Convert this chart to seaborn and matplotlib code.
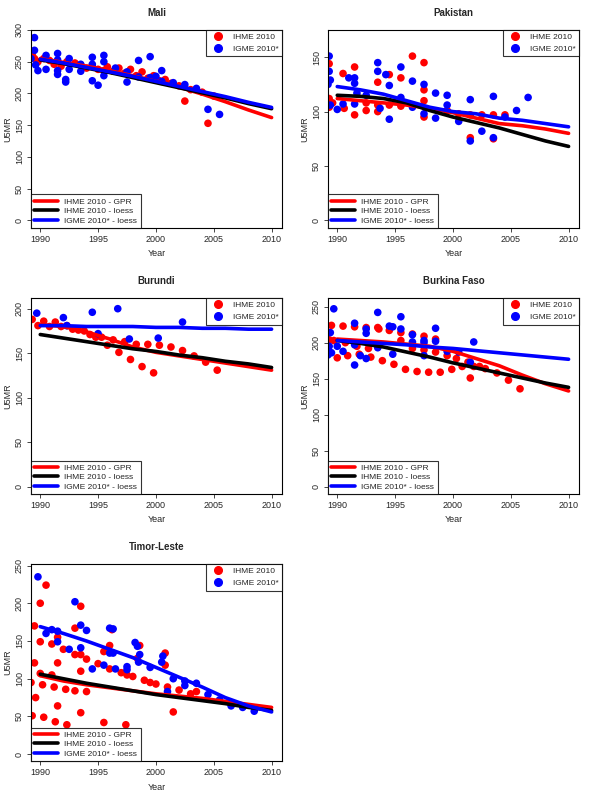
import pandas as pd
import matplotlib.pyplot as plt
import seaborn as sns
from matplotlib.lines import Line2D

# ---- data ----
line_years = [1990, 1992, 1994, 1996, 1998, 2000, 2002, 2004, 2006, 2008, 2010]

mali_ihme = [(1989.3, 262), (1989.5, 255), (1989.8, 250), (1990.3, 255), (1990.8, 252), (1991.2, 246),
             (1991.8, 243), (1992.3, 250), (1993, 248), (1993.5, 245), (1994, 240), (1994.5, 243),
             (1995, 238), (1995.5, 236), (1995.8, 242), (1996.3, 235), (1996.8, 240), (1997.3, 232),
             (1997.8, 238), (1998.3, 228), (1998.8, 234), (1999.3, 224), (1999.8, 228), (2000.3, 220),
             (2000.8, 222), (2001.3, 216), (2002, 212), (2002.5, 188), (2003, 206), (2004, 202),
             (2004.5, 153), (2005, 196)]
mali_igme = [(1989.2, 255), (1989.5, 288), (1989.5, 268), (1989.6, 245), (1989.8, 236), (1990.5, 260),
             (1990.5, 238), (1991.5, 263), (1991.5, 253), (1991.5, 236), (1991.5, 230), (1992.2, 222),
             (1992.2, 218), (1992.5, 255), (1992.5, 238), (1993.5, 246), (1993.5, 235), (1994.5, 257),
             (1994.5, 246), (1994.5, 220), (1995, 213), (1995.5, 260), (1995.5, 250), (1995.5, 228),
             (1996.5, 240), (1997.5, 234), (1997.5, 218), (1998.5, 252), (1998.5, 226), (1999.5, 258),
             (1999.5, 225), (2000, 227), (2000.5, 236), (2000.5, 219), (2001.5, 217), (2002.5, 214),
             (2003.5, 208), (2004.5, 175), (2005.5, 167)]
mali_gpr = [255, 249, 243, 236, 228, 219, 210, 199, 187, 174, 162]
mali_loess = [253, 247, 240, 233, 225, 217, 209, 201, 193, 184, 176]
mali_igme_loess = [254, 248, 241, 234, 227, 219, 211, 203, 195, 186, 178]

pak_ihme = [(1989.3, 144), (1989.3, 112), (1989.3, 104), (1989.6, 108), (1990.5, 135), (1990.6, 103),
            (1991.5, 141), (1991.5, 97), (1992.5, 108), (1992.5, 101), (1993.5, 127), (1993.5, 106),
            (1993.5, 100), (1994.5, 134), (1994.5, 106), (1995.5, 131), (1995.5, 105), (1996.5, 151),
            (1997.5, 145), (1997.5, 120), (1997.5, 110), (1997.5, 95), (1999.5, 101), (2000.5, 98),
            (2001.5, 97), (2001.5, 76), (2002.5, 97), (2003.5, 97), (2003.5, 75), (2004.5, 97)]
pak_igme = [(1989.2, 125), (1989.3, 151), (1989.3, 137), (1989.4, 129), (1989.4, 106), (1990, 102),
            (1990.5, 107), (1991, 131), (1991.5, 131), (1991.5, 126), (1991.5, 107), (1991.7, 117),
            (1992.5, 115), (1993.5, 145), (1993.5, 137), (1993.7, 103), (1994.2, 134), (1994.5, 124),
            (1994.5, 93), (1995.5, 141), (1995.5, 113), (1996.5, 128), (1996.5, 104), (1997.5, 125),
            (1997.5, 98), (1998.5, 117), (1998.5, 94), (1999.5, 115), (1999.5, 106), (2000.5, 91),
            (2001.5, 111), (2001.5, 73), (2002.5, 82), (2003.5, 114), (2003.5, 76), (2004.5, 95),
            (2005.5, 101), (2006.5, 113)]
pak_gpr = [112, 110, 108, 106, 103, 99, 94, 89, 87, 84, 80]
pak_loess = [115, 114, 112, 108, 101, 95, 90, 85, 79, 73, 68]
pak_igme_loess = [123, 120, 116, 110, 104, 100, 98, 94, 92, 89, 86]

bur_ihme = [(1989.3, 188), (1989.8, 181), (1990.3, 186), (1990.8, 180), (1991.3, 185), (1991.8, 180),
            (1992.3, 181), (1992.8, 177), (1993.3, 176), (1993.8, 175), (1994.3, 171), (1994.8, 168),
            (1995.3, 168), (1995.8, 159), (1996.3, 165), (1996.8, 151), (1997.3, 163), (1997.8, 143),
            (1998.3, 160), (1998.8, 135), (1999.3, 160), (1999.8, 128), (2000.3, 159), (2001.3, 157),
            (2002.3, 153), (2003.3, 147), (2004.3, 140), (2005.3, 131)]
bur_igme = [(1989.7, 195), (1992, 190), (1992.3, 181), (1994.5, 196), (1995, 172), (1996.7, 200),
            (1997.7, 166), (2000.2, 167), (2002.3, 185)]
bur_gpr = [182, 180, 174, 166, 157, 151, 147, 143, 139, 135, 131]
bur_loess = [171, 167, 163, 159, 155, 152, 148, 145, 141, 138, 134]
bur_igme_loess = [181, 181, 180, 180, 180, 179, 179, 178, 178, 177, 177]

bf_ihme = [(1989.3, 204), (1989.5, 224), (1989.7, 203), (1990, 179), (1990.5, 223), (1990.7, 200),
           (1990.9, 182), (1991.5, 222), (1991.7, 195), (1991.9, 184), (1992.5, 221), (1992.7, 192),
           (1992.9, 180), (1993.5, 221), (1993.6, 219), (1993.9, 175), (1994.5, 217), (1994.9, 170),
           (1995.5, 214), (1995.5, 203), (1995.9, 163), (1996.5, 212), (1996.5, 192), (1996.9, 160),
           (1997.5, 209), (1997.5, 190), (1997.9, 159), (1998.5, 205), (1998.5, 187), (1998.9, 159),
           (1999.5, 182), (1999.9, 163), (2000.3, 178), (2000.8, 167), (2001.3, 173), (2001.5, 151),
           (2001.8, 167), (2002.3, 167), (2002.8, 164), (2003.8, 158), (2004.8, 148), (2005.8, 136)]
bf_igme = [(1989.2, 183), (1989.3, 195), (1989.4, 214), (1989.5, 186), (1989.7, 247), (1990, 195),
           (1990.5, 188), (1991.5, 227), (1991.5, 197), (1991.5, 169), (1992, 182), (1992.5, 219),
           (1992.5, 213), (1992.5, 178), (1993.5, 242), (1993.5, 193), (1994.5, 223), (1994.8, 222),
           (1994.8, 184), (1995.5, 236), (1995.5, 219), (1996.5, 211), (1996.5, 201), (1997.5, 203),
           (1997.5, 200), (1997.5, 182), (1998.5, 220), (1998.5, 202), (1999.5, 188), (2000.5, 187),
           (2001.5, 173), (2001.8, 201)]
bf_gpr = [205, 203, 201, 198, 195, 188, 178, 168, 155, 143, 133]
bf_loess = [203, 199, 194, 187, 180, 172, 165, 158, 151, 144, 138]
bf_igme_loess = [203, 201, 199, 197, 194, 192, 189, 186, 183, 180, 177]

tl_ihme = [(1989.2, 95), (1989.3, 51), (1989.5, 170), (1989.5, 121), (1989.6, 75), (1990, 200),
           (1990, 149), (1990, 107), (1990.2, 92), (1990.3, 49), (1990.5, 224), (1991, 146),
           (1991, 105), (1991.2, 89), (1991.3, 43), (1991.5, 155), (1991.5, 121), (1991.5, 64),
           (1992, 139), (1992.2, 86), (1992.3, 39), (1993, 167), (1993, 132), (1993, 84),
           (1993.5, 196), (1993.5, 132), (1993.5, 110), (1993.5, 55), (1994, 126), (1994, 83),
           (1995, 120), (1995.5, 136), (1995.5, 42), (1996, 144), (1996, 113), (1996.2, 165),
           (1997, 108), (1997.5, 105), (1997.4, 39), (1998, 103), (1998.4, 127), (1998.6, 144),
           (1999, 98), (1999.5, 95), (2000, 93), (2000.8, 134), (2000.8, 118), (2001, 89),
           (2001.5, 56), (2002, 85), (2003, 80), (2003.5, 83)]
tl_igme = [(1989.8, 235), (1990.5, 160), (1991, 165), (1991.5, 163), (1991.5, 149), (1992.5, 139),
           (1993, 202), (1993.5, 171), (1993.5, 141), (1994, 164), (1994.5, 113), (1995.5, 118),
           (1996, 167), (1996, 134), (1996.3, 166), (1996.3, 134), (1996.5, 113), (1997.5, 116),
           (1997.5, 112), (1998.2, 148), (1998.4, 143), (1998.5, 122), (1998.6, 132), (1999.5, 115),
           (2000.5, 122), (2000.6, 130), (2001, 83), (2001.5, 100), (2002.5, 97), (2002.5, 91),
           (2003.5, 94), (2004.5, 79), (2005.5, 72), (2006.5, 64), (2007.5, 62), (2008.5, 57)]
tl_gpr = [104, 97, 92, 88, 84, 80, 77, 74, 70, 66, 62]
tl_loess = [106, 100, 94, 89, 84, 79, 75, 71, 67, 62, 58]
tl_igme_loess = [169, 160, 150, 139, 128, 115, 102, 89, 75, 64, 56]

panels = [
    ("Mali", mali_ihme, mali_igme, mali_gpr, mali_loess, mali_igme_loess, (-12, 300), [0, 50, 100, 150, 200, 250, 300]),
    ("Pakistan", pak_ihme, pak_igme, pak_gpr, pak_loess, pak_igme_loess, (-7, 175), [0, 50, 100, 150]),
    ("Burundi", bur_ihme, bur_igme, bur_gpr, bur_loess, bur_igme_loess, (-8, 212), [0, 50, 100, 150, 200]),
    ("Burkina Faso", bf_ihme, bf_igme, bf_gpr, bf_loess, bf_igme_loess, (-10, 262), [0, 50, 100, 150, 200, 250]),
    ("Timor-Leste", tl_ihme, tl_igme, tl_gpr, tl_loess, tl_igme_loess, (-9, 252), [0, 50, 100, 150, 200, 250]),
]

RED = "#ff0000"
BLUE = "#0000ff"

sns.set_style("white")
plt.rcParams["font.family"] = ["Liberation Sans", "DejaVu Sans"]

fig = plt.figure(figsize=(5.95, 8), dpi=100)
W, H = 595, 800
lefts = [31, 328]
rows = [(30, 228), (298, 494), (564, 761)]

for i, (name, ihme, igme, gpr, loess, igme_loess, ylim, yticks) in enumerate(panels):
    top, bot = rows[i // 2]
    left = lefts[i % 2]
    ax = fig.add_axes([left / W, 1 - bot / H, 251 / W, (bot - top) / H])

    pts = pd.DataFrame(ihme, columns=["year", "u5mr"]).assign(src="IHME 2010")
    pts = pd.concat([pts, pd.DataFrame(igme, columns=["year", "u5mr"]).assign(src="IGME 2010*")])
    sns.scatterplot(data=pts, x="year", y="u5mr", hue="src", palette={"IHME 2010": RED, "IGME 2010*": BLUE},
                    s=30, edgecolor="none", ax=ax, legend=False, zorder=2)

    lines = pd.DataFrame({"year": line_years, "IHME 2010 - GPR": gpr, "IHME 2010 - loess": loess,
                          "IGME 2010* - loess": igme_loess})
    lines = lines.melt(id_vars="year", var_name="series", value_name="u5mr")
    sns.lineplot(data=lines, x="year", y="u5mr", hue="series", ax=ax, legend=False, linewidth=2.6,
                 palette={"IHME 2010 - GPR": RED, "IHME 2010 - loess": "black", "IGME 2010* - loess": BLUE},
                 zorder=3)

    ax.set_xlim(1989.2, 2010.9)
    ax.set_ylim(*ylim)
    ax.set_xticks([1990, 1995, 2000, 2005, 2010])
    ax.set_yticks(yticks)
    ax.tick_params(axis="both", labelsize=6.5, length=3, width=0.6, direction="out", left=True, bottom=True, pad=2)
    for lab in ax.get_yticklabels():
        lab.set_rotation(90)
        lab.set_va("center")
    ax.set_xlabel("Year", fontsize=6.5, labelpad=4)
    ax.set_ylabel("U5MR", fontsize=6.5, labelpad=2)
    ax.set_title(name, fontsize=7, fontweight="bold", pad=10)
    for sp in ax.spines.values():
        sp.set_color("black")
        sp.set_linewidth(0.8)

    h_pts = [Line2D([], [], marker="o", color=c, linestyle="none", markersize=5.5) for c in (RED, BLUE)]
    leg1 = ax.legend(h_pts, ["IHME 2010", "IGME 2010*"], loc="upper right", fontsize=6, frameon=True,
                     fancybox=False, edgecolor="black", borderaxespad=0, handletextpad=0.8)
    leg1.get_frame().set_linewidth(0.8)
    ax.add_artist(leg1)
    h_lines = [Line2D([], [], color=c, linewidth=2.6) for c in (RED, "black", BLUE)]
    leg2 = ax.legend(h_lines, ["IHME 2010 - GPR", "IHME 2010 - loess", "IGME 2010* - loess"], loc="lower left",
                     fontsize=6, frameon=True, fancybox=False, edgecolor="black", borderaxespad=0,
                     labelspacing=0.2, handlelength=2.8)
    leg2.get_frame().set_linewidth(0.8)

fig.savefig("out.png", dpi=100)
